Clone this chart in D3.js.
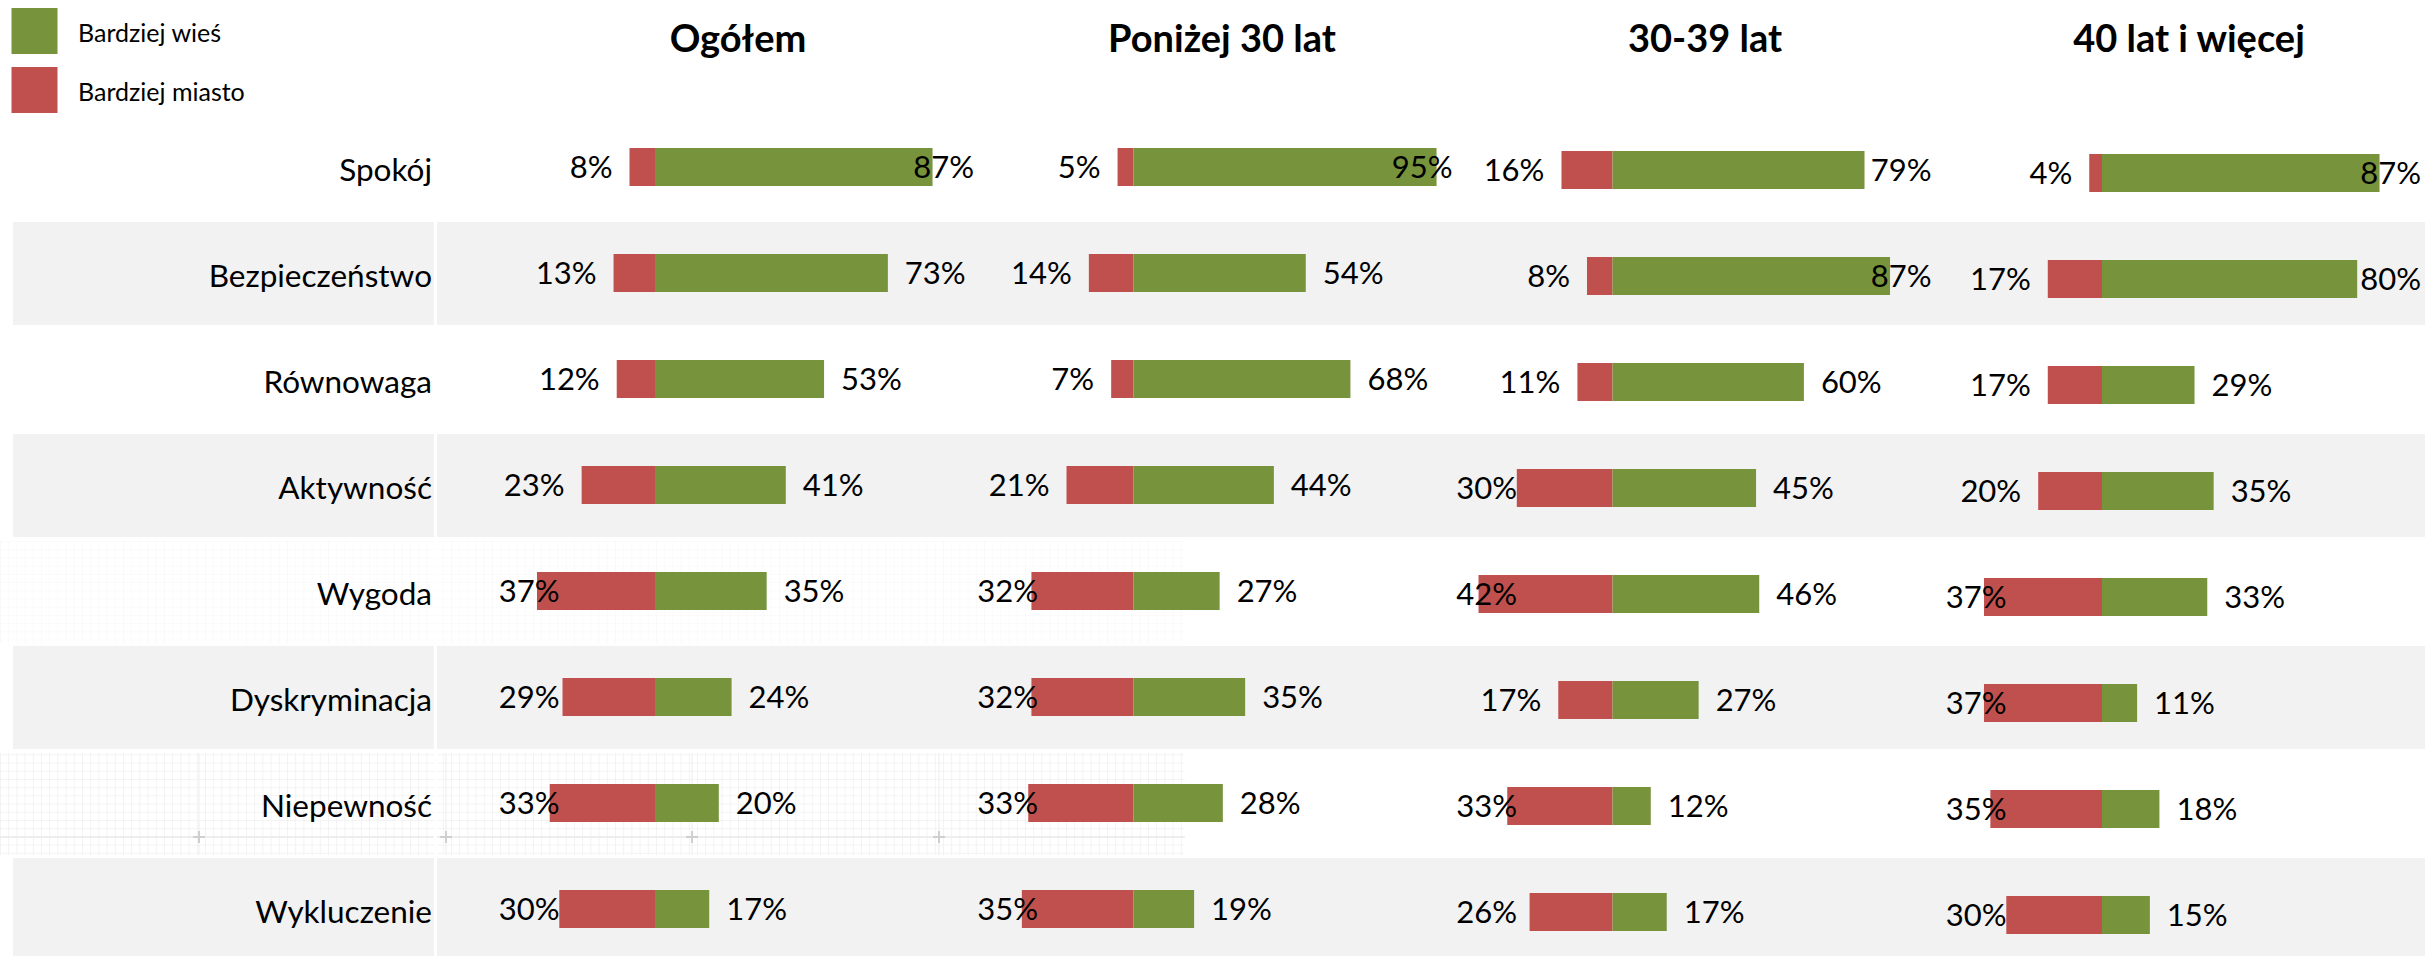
<!DOCTYPE html>
<html>
<head>
<meta charset="utf-8">
<script src="https://cdn.jsdelivr.net/npm/d3@7"></script>
<style>
    body { margin: 0; background: #fff; }
    text { font-family: Lato, "Open Sans", sans-serif; fill: #000; }
</style>
</head>
<body>
<div id="chart"></div>
<script>
// categories (rows) and panels
var categories = ["Spokój", "Bezpieczeństwo", "Równowaga", "Aktywność", "Wygoda", "Dyskryminacja", "Niepewność", "Wykluczenie"];
var groups = ["Ogółem", "Poniżej 30 lat", "30-39 lat", "40 lat i więcej"];
var seriesNames = ["Bardziej wieś", "Bardziej miasto"];
var seriesColors = ["#77933C", "#C0504D"];

// values in percent, one array per panel
var wiesOgolem = [87, 73, 53, 41, 35, 24, 20, 17];
var miastoOgolem = [8, 13, 12, 23, 37, 29, 33, 30];
var wiesPonizej30 = [95, 54, 68, 44, 27, 35, 28, 19];
var miastoPonizej30 = [5, 14, 7, 21, 32, 32, 33, 35];
var wies3039 = [79, 87, 60, 45, 46, 27, 12, 17];
var miasto3039 = [16, 8, 11, 30, 42, 17, 33, 26];
var wies40plus = [87, 80, 29, 35, 33, 11, 18, 15];
var miasto40plus = [4, 17, 17, 20, 37, 37, 35, 30];

var wies = [wiesOgolem, wiesPonizej30, wies3039, wies40plus];
var miasto = [miastoOgolem, miastoPonizej30, miasto3039, miasto40plus];

var width = 2425, height = 956;

// layout of the four small charts
var panelZero = [655, 1133.5, 1612.5, 2102];
var titleX = [738, 1222, 1705, 2189];
var panelShift = [0, 0, 3, 6];
var barHeight = 38;
var labelGap = 17;

var svg = d3.select("#chart")
    .append("svg")
    .attr("width", width)
    .attr("height", height);

var yScale = d3.scalePoint()
    .domain(categories)
    .range([167, 909]);

/*
BACKGROUND: faint grid left over in two white rows
*/
var defs = svg.append("defs");
defs.append("pattern")
    .attr("id", "grid")
    .attr("width", 8.2)
    .attr("height", 8.2)
    .attr("patternUnits", "userSpaceOnUse")
    .append("path")
    .attr("d", "M 8.2 0 L 0 0 0 8.2")
    .attr("fill", "none")
    .attr("stroke", "#e6e6e6")
    .attr("stroke-width", 1);

[["Wygoda", 0.35], ["Niepewność", 0.9]].forEach(function(g) {
    var cy = yScale(g[0]);
    svg.append("rect")
        .attr("x", 0)
        .attr("y", cy - 50)
        .attr("width", 1185)
        .attr("height", 102)
        .attr("fill", "url(#grid)")
        .attr("opacity", g[1]);
});

var plusY = yScale("Niepewność") + 34;
svg.append("line")
    .attr("x1", 0).attr("x2", 1185)
    .attr("y1", plusY).attr("y2", plusY)
    .attr("stroke", "#ebebeb")
    .attr("stroke-width", 1.5);
[199, 446, 692, 939].forEach(function(px) {
    svg.append("line")
        .attr("x1", px).attr("x2", px)
        .attr("y1", yScale("Niepewność") - 50).attr("y2", yScale("Niepewność") + 52)
        .attr("stroke", "#ececec");
    svg.append("path")
        .attr("d", "M" + (px - 6) + "," + plusY + "h12M" + px + "," + (plusY - 6) + "v12")
        .attr("stroke", "#cfcfcf")
        .attr("stroke-width", 2);
});

/*
ROW BANDS
*/
svg.selectAll(".band")
    .data(categories.filter(function(d, i) { return i % 2 === 1; }))
    .enter()
    .append("rect")
    .attr("class", "band")
    .attr("x", 13)
    .attr("y", function(d) { return yScale(d) - 51; })
    .attr("width", width - 13)
    .attr("height", 103)
    .attr("fill", "#F2F2F2");

svg.append("rect")
    .attr("x", 434)
    .attr("y", 0)
    .attr("width", 3)
    .attr("height", height)
    .attr("fill", "#fff");

/*
LEGEND
*/
var legend = svg.selectAll(".legend")
    .data(seriesNames)
    .enter()
    .append("g")
    .attr("class", "legend")
    .attr("transform", function(d, i) { return "translate(11.5," + (8 + i * 59) + ")"; });

legend.append("rect")
    .attr("width", 46)
    .attr("height", 46)
    .attr("fill", function(d, i) { return seriesColors[i]; });

legend.append("text")
    .attr("x", 66.5)
    .attr("y", 34)
    .style("font-size", "25px")
    .text(function(d) { return d; });

/*
ROW LABELS
*/
svg.selectAll(".cat")
    .data(categories)
    .enter()
    .append("text")
    .attr("class", "cat")
    .attr("x", 432)
    .attr("y", function(d) { return yScale(d) + 14; })
    .attr("text-anchor", "end")
    .style("font-size", "31.5px")
    .text(function(d) { return d; });

/*
PANELS
*/
groups.forEach(function(name, p) {
    var zero = panelZero[p];
    var xScale = d3.scaleLinear()
        .domain([-49, 100])
        .range([zero - 156.3, zero + 319]);
    var plotLeft = xScale.range()[0], plotRight = xScale.range()[1];

    var g = svg.append("g")
        .attr("transform", "translate(0," + panelShift[p] + ")");

    svg.append("text")
        .attr("x", titleX[p])
        .attr("y", 52)
        .attr("text-anchor", "middle")
        .style("font-size", "38px")
        .style("font-weight", "bold")
        .text(name);

    var rows = categories.map(function(c, i) {
        return { cat: c, wies: wies[p][i], miasto: miasto[p][i] };
    });

    g.selectAll(".red")
        .data(rows)
        .enter()
        .append("rect")
        .attr("x", function(d) { return xScale(-d.miasto); })
        .attr("y", function(d) { return yScale(d.cat) - barHeight / 2; })
        .attr("width", function(d) { return xScale(0) - xScale(-d.miasto); })
        .attr("height", barHeight)
        .attr("fill", seriesColors[1]);

    g.selectAll(".green")
        .data(rows)
        .enter()
        .append("rect")
        .attr("x", xScale(0))
        .attr("y", function(d) { return yScale(d.cat) - barHeight / 2; })
        .attr("width", function(d) { return xScale(d.wies) - xScale(0); })
        .attr("height", barHeight)
        .attr("fill", seriesColors[0]);

    // labels sit outside the bar ends but stay inside the plot area
    g.selectAll(".lred")
        .data(rows)
        .enter()
        .append("text")
        .attr("y", function(d) { return yScale(d.cat) + 11; })
        .attr("text-anchor", "end")
        .style("font-size", "31px")
        .text(function(d) { return d.miasto + "%"; })
        .attr("x", function(d) {
            var w = this.getComputedTextLength();
            return Math.max(xScale(-d.miasto) - labelGap, plotLeft + w);
        });

    g.selectAll(".lgreen")
        .data(rows)
        .enter()
        .append("text")
        .attr("y", function(d) { return yScale(d.cat) + 11; })
        .style("font-size", "31px")
        .text(function(d) { return d.wies + "%"; })
        .attr("x", function(d) {
            var w = this.getComputedTextLength();
            return Math.min(xScale(d.wies) + labelGap, plotRight - w);
        });
});
</script>
</body>
</html>
